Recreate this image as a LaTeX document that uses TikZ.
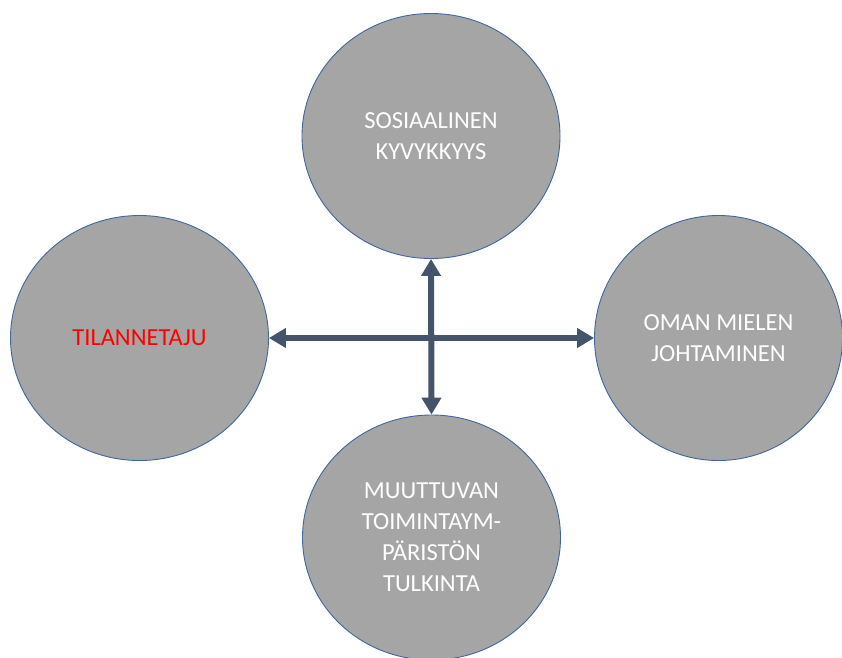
\documentclass[tikz,border=0pt]{standalone}
\usepackage{fontspec}
\setmainfont{Carlito}
\usetikzlibrary{arrows.meta,shapes.geometric}
\definecolor{circfill}{HTML}{A5A5A5}
\definecolor{circline}{HTML}{41679C}
\definecolor{arrowcol}{HTML}{44546A}
\definecolor{redtext}{HTML}{FF0000}
\begin{document}
\begin{tikzpicture}[x=1pt,y=-1pt,
  circ/.style={ellipse, draw=circline, line width=0.9pt, fill=circfill, inner sep=0pt,
    minimum width=258pt, minimum height=245pt, align=center, text=white,
    font=\fontsize{24.5}{31}\selectfont},
  arr/.style={draw=arrowcol, line width=6pt,
    {Triangle[length=17pt,width=19pt]}-{Triangle[length=17pt,width=19pt]}}]
\clip (0,0) rectangle (842,657);
\fill[white] (0,0) rectangle (842,657);
\node[circ] (top) at (431,136) {SOSIAALINEN\\KYVYKKYYS};
\node[circ, text=redtext] (left) at (139.5,338) {TILANNETAJU};
\node[circ, minimum width=248pt] (right) at (718.5,338) {OMAN MIELEN\\JOHTAMINEN};
\node[circ] (bottom) at (431.5,537.5) {MUUTTUVAN\\TOIMINTAYM-\\PÄRISTÖN\\TULKINTA};
\draw[arr] (left.east) -- (right.west);
\draw[arr] (top.south) -- (bottom.north);
\end{tikzpicture}
\end{document}
